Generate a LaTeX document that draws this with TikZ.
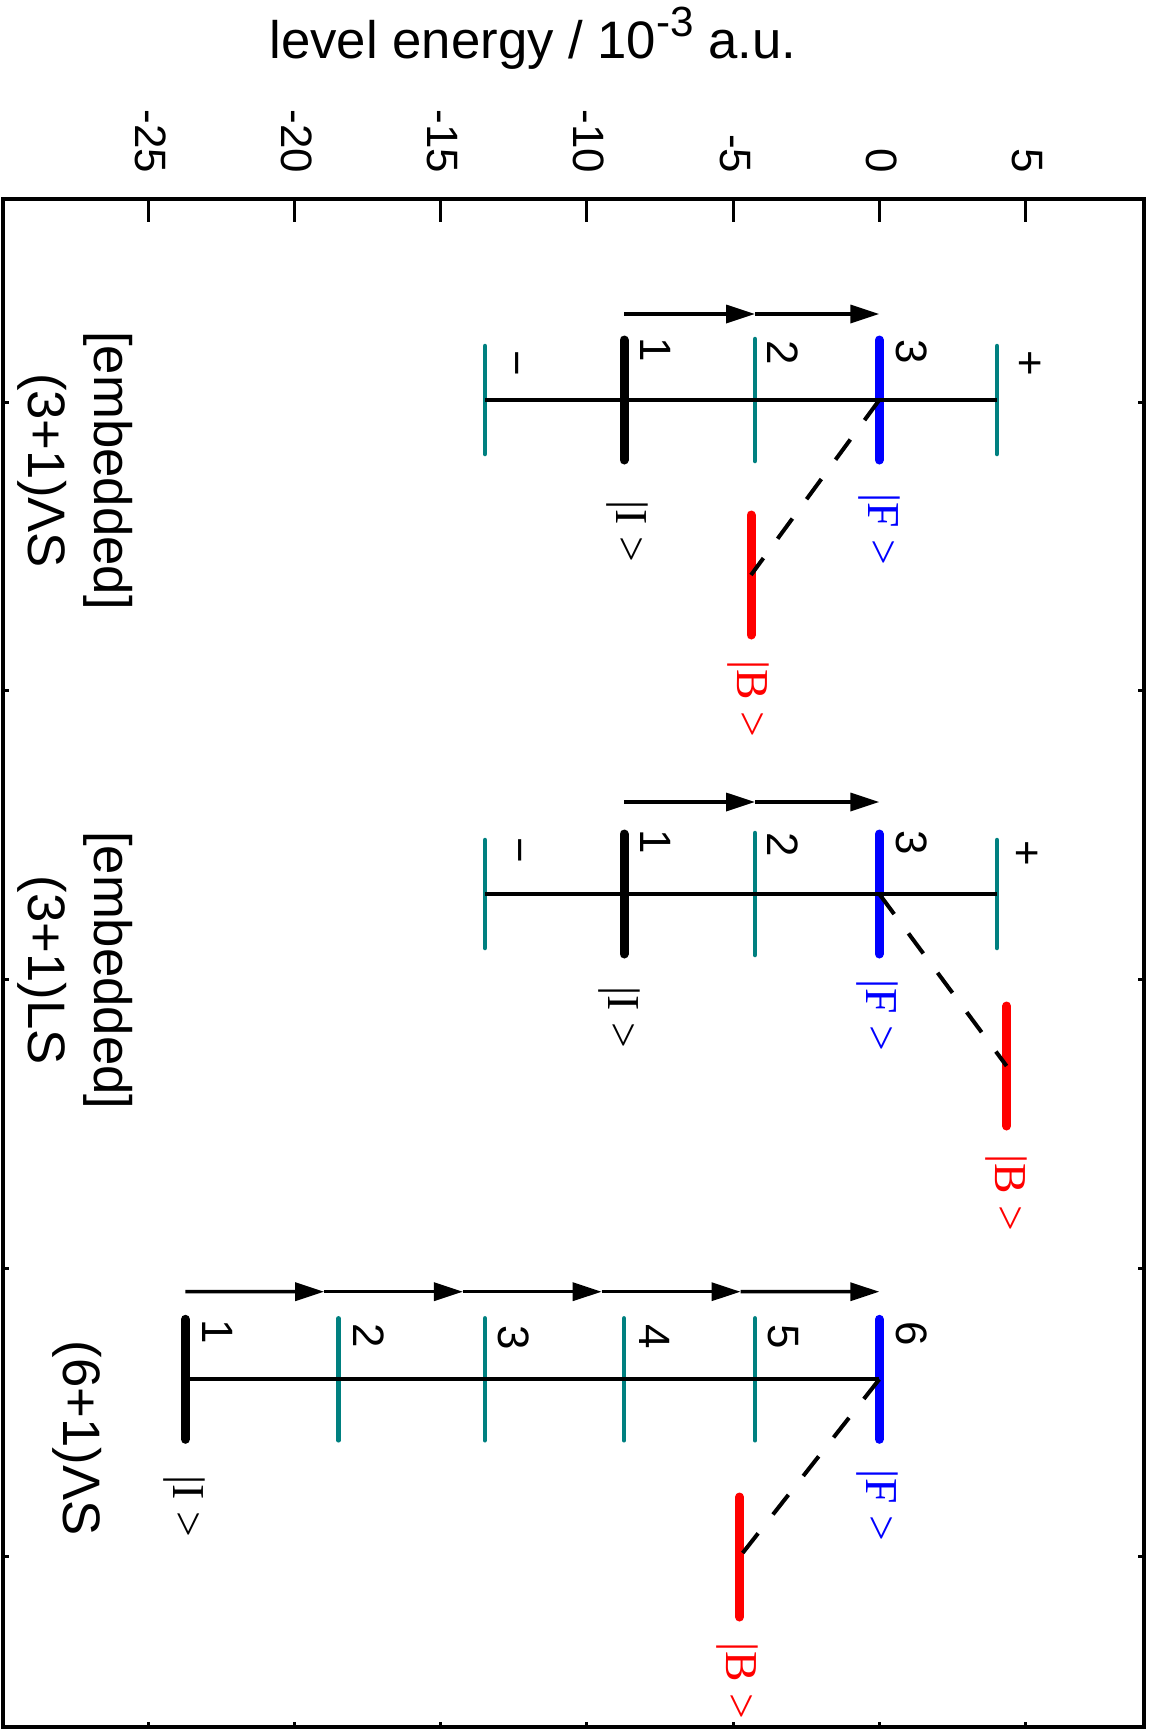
\documentclass[tikz,border=0pt]{standalone}
\usepackage{fontspec}
\setmainfont{Liberation Sans}
\newfontfamily\ketfont{Liberation Serif}
\usetikzlibrary{calc}
\usetikzlibrary{arrows.meta}

\begin{document}
\begin{tikzpicture}[x=0.1mm,y=-0.1mm]
\tikzstyle{lev}=[teal,line width=0.45mm,line cap=round]
\tikzstyle{state}=[line width=0.9mm,line cap=round]
\tikzstyle{trans}=[line width=0.35mm,-{Triangle[length=2.9mm,width=1.8mm]}]
\tikzstyle{coup}=[line width=0.4mm,dash pattern=on 2.5mm off 2.4mm]
\tikzstyle{num}=[rotate=-90,inner sep=0pt,font=\fontsize{12.5}{12.5}\selectfont]
\tikzstyle{ket}=[rotate=-90,inner sep=0pt,font=\ketfont\fontsize{13}{13}\selectfont]
\tikzstyle{scheme}=[rotate=-90,inner sep=0pt,align=center,font=\fontsize{15}{18.8}\selectfont]
\useasboundingbox (0,0) rectangle (1155,1729);
% axes box
\draw[line width=0.45mm] (3,199) rectangle (1144,1727);
\foreach \v in {-25,-20,...,5}{
  \draw[line width=0.3mm] ({879.3+29.24*\v},199) -- ++(0,23);
  \draw[line width=0.3mm] ({879.3+29.24*\v},1727) -- ++(0,-5);
  \node[num,anchor=east] (t\v) at ({881.3+29.24*\v},174) {\v};
}
\foreach \y in {402,690.7,979.4,1268,1556.8}{
  \draw[line width=0.3mm] (3,\y) -- ++(6,0);
  \draw[line width=0.3mm] (1144,\y) -- ++(-6,0);
}
\node[anchor=base,inner sep=0pt,font=\fontsize{15}{15}\selectfont] (title) at (533,58)
  {level energy / 10\raisebox{2.2mm}{\fontsize{12}{12}\selectfont -3} a.u.};

% [embedded] (3+1)LambdaS
\coordinate (A0) at (485,400);
\coordinate (A1) at (624,400);
\coordinate (A2) at (755,400);
\coordinate (A3) at (879.3,400);
\coordinate (A4) at (997,400);
\coordinate (AR) at (751,575);
\draw[lev] (A0)++(0,-54) -- ++(0,108);
\draw[lev] (A4)++(0,-54) -- ++(0,108);
\draw[lev] (A2)++(0,-61) -- ++(0,122);
\draw[state] (A1)++(0,-60) -- ++(0,120);
\draw[state,blue] (A3)++(0,-60) -- ++(0,120);
\draw[state,red] (AR)++(0,-60) -- ++(0,120);
\draw[line width=0.38mm] (A0) -- (A4);
\draw[coup] (A3) -- (AR);
\draw[trans] ($(A1)+(0,-86)$) coordinate (a1) -- ($(A2)+(0,-86)$) coordinate (a2);
\draw[trans] (a2) -- ($(A3)+(0,-86)$);
\draw (A0)++(26,-37) node[num] (A0n) {−};
\draw (A1)++(32,-50) node[num] (A1n) {1};
\draw (A2)++(28,-47) node[num] (A2n) {2};
\draw (A3)++(32,-48) node[num] (A3n) {3};
\draw (A4)++(31,-37) node[num] (A4n) {+};
\draw (A1)++(3,131) node[ket] (AI) {|I >};
\draw (A3)++(0,129) node[ket,blue] (AF) {|F >};
\draw (AR)++(-3,124) node[ket,red] (AB) {|B >};
\node[scheme] (Aname) at (75.4,470.5) {[embedded]\\(3+1)ΛS};

% [embedded] (3+1)LS
\coordinate (B0) at (485,894);
\coordinate (B1) at (624,894);
\coordinate (B2) at (755,894);
\coordinate (B3) at (879.3,894);
\coordinate (B4) at (997,894);
\coordinate (BR) at (1006.6,1066);
\draw[lev] (B0)++(0,-54) -- ++(0,108);
\draw[lev] (B4)++(0,-54) -- ++(0,108);
\draw[lev] (B2)++(0,-61) -- ++(0,122);
\draw[state] (B1)++(0,-60) -- ++(0,120);
\draw[state,blue] (B3)++(0,-60) -- ++(0,120);
\draw[state,red] (BR)++(0,-60) -- ++(0,120);
\draw[line width=0.38mm] (B0) -- (B4);
\draw[coup] (B3) -- (BR);
\draw[trans] ($(B1)+(0,-92)$) coordinate (b1) -- ($(B2)+(0,-92)$) coordinate (b2);
\draw[trans] (b2) -- ($(B3)+(0,-92)$);
\draw (B0)++(29,-44) node[num] (B0n) {−};
\draw (B1)++(32,-52) node[num] (B1n) {1};
\draw (B2)++(28,-49) node[num] (B2n) {2};
\draw (B3)++(32,-51) node[num] (B3n) {3};
\draw (B4)++(28,-41) node[num] (B4n) {+};
\draw (B1)++(-5,123) node[ket] (BI) {|I >};
\draw (B3)++(-2,121) node[ket,blue] (BF) {|F >};
\draw (BR)++(0,127) node[ket,red] (BB) {|B >};
\node[scheme] (Bname) at (75.4,970.3) {[embedded]\\(3+1)LS};

% (6+1)LambdaS
\coordinate (C1) at (185.4,1379.3);
\coordinate (C2) at (338.5,1379.3);
\coordinate (C3) at (484.9,1379.3);
\coordinate (C4) at (624,1379.3);
\coordinate (C5) at (755,1379.3);
\coordinate (C6) at (879.3,1379.3);
\coordinate (CR) at (739.5,1557);
\draw[lev] (C2)++(0,-61) -- ++(0,122);
\draw[lev] (C3)++(0,-61) -- ++(0,122);
\draw[lev] (C4)++(0,-61) -- ++(0,122);
\draw[lev] (C5)++(0,-61) -- ++(0,122);
\draw[state] (C1)++(0,-60) -- ++(0,120);
\draw[state,blue] (C6)++(0,-60) -- ++(0,120);
\draw[state,red] (CR)++(0,-60) -- ++(0,120);
\draw[line width=0.38mm] (C1) -- (C6);
\draw[coup] (C6) -- (CR);
\coordinate (c0) at ($(C1)+(0,-87.6)$);
\coordinate (c5) at ($(C6)+(0,-87.6)$);
\draw[trans] (c0) -- ($(c0)!0.2!(c5)$) coordinate (c1);
\draw[trans] (c1) -- ($(c0)!0.4!(c5)$) coordinate (c2);
\draw[trans] (c2) -- ($(c0)!0.6!(c5)$) coordinate (c3);
\draw[trans] (c3) -- ($(c0)!0.8!(c5)$) coordinate (c4);
\draw[trans] (c4) -- (c5);
\draw (C1)++(32,-48) node[num] (C1n) {1};
\draw (C2)++(30,-44) node[num] (C2n) {2};
\draw (C3)++(29,-42) node[num] (C3n) {3};
\draw (C4)++(31,-43) node[num] (C4n) {4};
\draw (C5)++(28,-43) node[num] (C5n) {5};
\draw (C6)++(32,-46) node[num] (C6n) {6};
\draw (C1)++(-1,127) node[ket] (CI) {|I >};
\draw (C6)++(-2,126) node[ket,blue] (CF) {|F >};
\draw (CR)++(-2,124) node[ket,red] (CB) {|B >};
\node[scheme] (Cname) at (77,1438) {(6+1)ΛS};
\end{tikzpicture}
\end{document}
